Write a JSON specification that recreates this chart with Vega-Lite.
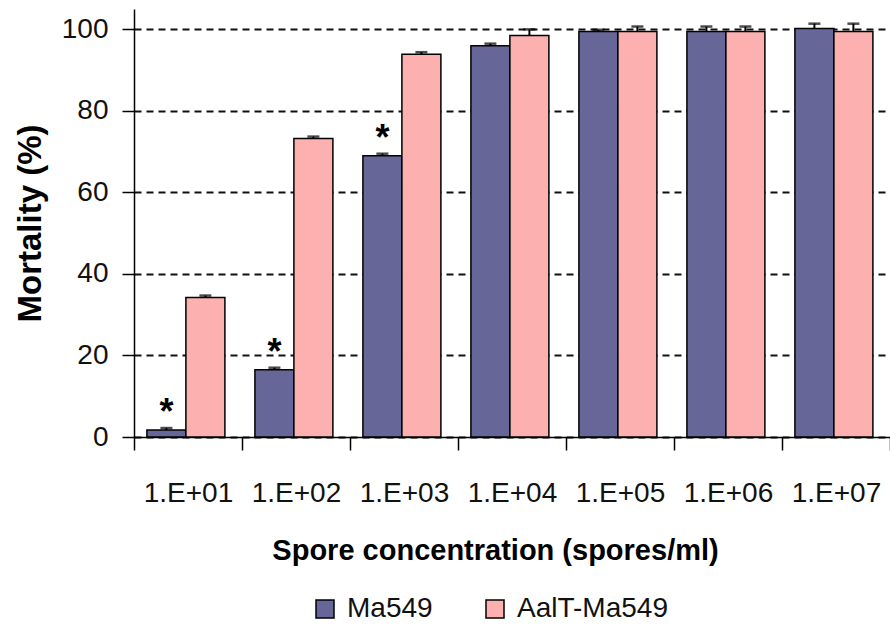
{
  "$schema": "https://vega.github.io/schema/vega-lite/v6.json",
  "width": 756,
  "height": 428,
  "autosize": {"type": "none"},
  "padding": {"left": 134, "top": 9, "right": 0, "bottom": 196},
  "background": "white",
  "config": {
    "view": {"stroke": null},
    "font": "Liberation Sans, Arial, sans-serif"
  },
  "data": {
    "values": [
      {"conc": "1.E+01", "strain": "Ma549", "mortality": 1.7, "upper": 2.2, "sig": "*"},
      {"conc": "1.E+01", "strain": "AalT-Ma549", "mortality": 34.2, "upper": 34.7, "sig": ""},
      {"conc": "1.E+02", "strain": "Ma549", "mortality": 16.5, "upper": 17.0, "sig": "*"},
      {"conc": "1.E+02", "strain": "AalT-Ma549", "mortality": 73.2, "upper": 73.7, "sig": ""},
      {"conc": "1.E+03", "strain": "Ma549", "mortality": 69.0, "upper": 69.5, "sig": "*"},
      {"conc": "1.E+03", "strain": "AalT-Ma549", "mortality": 93.9, "upper": 94.4, "sig": ""},
      {"conc": "1.E+04", "strain": "Ma549", "mortality": 96.0, "upper": 96.5, "sig": ""},
      {"conc": "1.E+04", "strain": "AalT-Ma549", "mortality": 98.5, "upper": 100.0, "sig": ""},
      {"conc": "1.E+05", "strain": "Ma549", "mortality": 99.5, "upper": 99.9, "sig": ""},
      {"conc": "1.E+05", "strain": "AalT-Ma549", "mortality": 99.5, "upper": 100.7, "sig": ""},
      {"conc": "1.E+06", "strain": "Ma549", "mortality": 99.5, "upper": 100.7, "sig": ""},
      {"conc": "1.E+06", "strain": "AalT-Ma549", "mortality": 99.5, "upper": 100.7, "sig": ""},
      {"conc": "1.E+07", "strain": "Ma549", "mortality": 100.2, "upper": 101.4, "sig": ""},
      {"conc": "1.E+07", "strain": "AalT-Ma549", "mortality": 99.5, "upper": 101.4, "sig": ""}
    ]
  },
  "encoding": {
    "x": {
      "field": "conc",
      "type": "nominal",
      "sort": null,
      "scale": {"paddingInner": 0, "paddingOuter": 0},
      "axis": {
        "title": "Spore concentration (spores/ml)",
        "labelAngle": 0,
        "labelFontSize": 28,
        "labelColor": "#111",
        "labelPadding": 29,
        "tickBand": "extent",
        "tickSize": 13,
        "tickColor": "black",
        "tickWidth": 1.5,
        "domainColor": "black",
        "domainWidth": 1.5,
        "titleFontSize": 29,
        "titleFontWeight": "bold",
        "titleColor": "black",
        "titlePadding": 29,
        "titleX": 361
      }
    },
    "xOffset": {
      "field": "strain",
      "type": "nominal",
      "sort": ["Ma549", "AalT-Ma549"],
      "scale": {"domain": ["Ma549", "AalT-Ma549"], "paddingInner": 0, "paddingOuter": 0.385, "align": 0.43}
    }
  },
  "layer": [
    {
      "mark": {"type": "bar", "stroke": "black", "strokeWidth": 1.5},
      "encoding": {
        "y": {
          "field": "mortality",
          "type": "quantitative",
          "scale": {"domain": [0, 105], "nice": false},
          "axis": {
            "title": "Mortality (%)",
            "values": [0, 20, 40, 60, 80, 100],
            "labelFontSize": 28,
            "labelColor": "#111",
            "labelPadding": 14,
            "tickSize": 12,
            "tickColor": "black",
            "tickWidth": 1.5,
            "domainColor": "black",
            "domainWidth": 1.5,
            "grid": true,
            "gridColor": "#111",
            "gridWidth": 2,
            "gridDash": [7, 5],
            "titleFontSize": 33,
            "titleFontWeight": "bold",
            "titleColor": "black",
            "titlePadding": 14
          }
        },
        "color": {
          "field": "strain",
          "type": "nominal",
          "scale": {"domain": ["Ma549", "AalT-Ma549"], "range": ["#666699", "#fcb0b0"]},
          "legend": {
            "title": null,
            "orient": "none",
            "direction": "horizontal",
            "legendX": 177,
            "legendY": 586,
            "symbolType": "square",
            "symbolSize": 324,
            "symbolStrokeColor": "black",
            "symbolStrokeWidth": 1.5,
            "symbolOpacity": 1,
            "labelFontSize": 28,
            "labelColor": "#111",
            "labelOffset": 8,
            "columnPadding": 48,
            "labelLimit": 300
          }
        }
      }
    },
    {
      "mark": {"type": "rule", "color": "black", "strokeWidth": 2},
      "encoding": {
        "y": {"field": "mortality", "type": "quantitative"},
        "y2": {"field": "upper"}
      }
    },
    {
      "mark": {"type": "tick", "color": "black", "thickness": 2.5, "size": 12},
      "encoding": {
        "y": {"field": "upper", "type": "quantitative"}
      }
    },
    {
      "transform": [{"filter": "datum.sig != ''"}],
      "mark": {"type": "text", "fontSize": 36, "fontWeight": "bold", "baseline": "alphabetic", "dy": -6, "color": "black"},
      "encoding": {
        "y": {"field": "mortality", "type": "quantitative"},
        "text": {"field": "sig"}
      }
    }
  ]
}
